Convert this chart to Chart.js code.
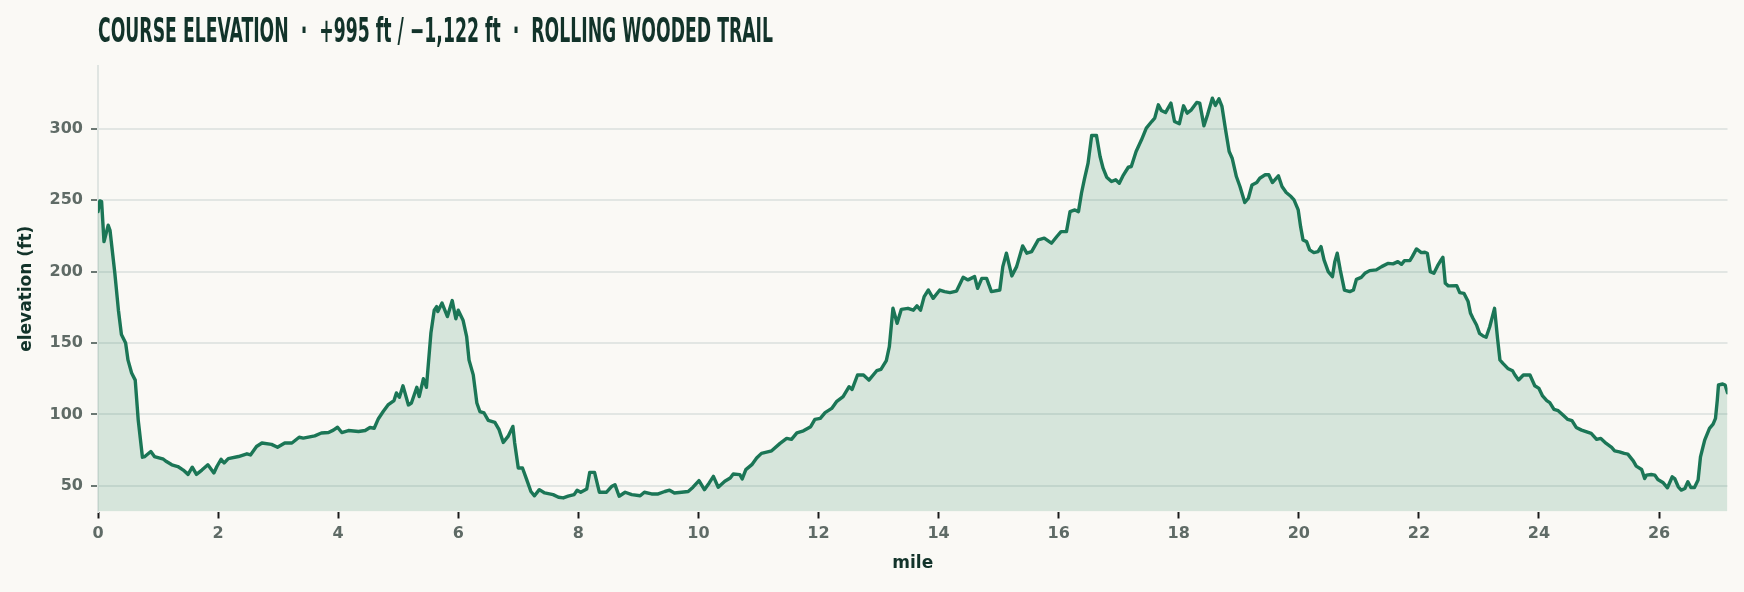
<!DOCTYPE html>
<html><head><meta charset="utf-8">
<script src="https://cdn.jsdelivr.net/npm/chart.js@4.4.1/dist/chart.umd.min.js"></script>
<style>
html,body{margin:0;padding:0;background:#faf9f5;}
#wrap{position:relative;width:1744px;height:592px;overflow:hidden;}
#title{position:absolute;left:98px;top:13px;font-family:'DejaVu Sans Condensed','DejaVu Sans',sans-serif;font-weight:bold;font-size:34px;line-height:34px;color:#12332a;white-space:pre;transform-origin:0 0;}
canvas{position:absolute;left:0;top:0;}
</style></head><body>
<div id="wrap"><canvas id="c" width="1744" height="592"></canvas><div id="title">COURSE ELEVATION  ·  +995 ft / −1,122 ft  ·  ROLLING WOODED TRAIL</div></div>
<script>
const miles = [0.00,0.03,0.06,0.10,0.17,0.20,0.28,0.34,0.39,0.46,0.50,0.56,0.62,0.67,0.74,0.78,0.88,0.94,1.09,1.14,1.23,1.33,1.42,1.50,1.57,1.64,1.73,1.83,1.93,1.98,2.05,2.10,2.17,2.34,2.48,2.54,2.64,2.73,2.89,2.99,3.11,3.23,3.35,3.42,3.61,3.72,3.84,3.92,3.99,4.06,4.17,4.34,4.45,4.53,4.60,4.67,4.75,4.83,4.93,4.97,5.02,5.08,5.17,5.22,5.31,5.35,5.42,5.47,5.545,5.60,5.64,5.66,5.73,5.82,5.90,5.96,6.00,6.08,6.14,6.18,6.25,6.31,6.36,6.43,6.50,6.61,6.68,6.75,6.83,6.91,6.94,7.00,7.07,7.14,7.21,7.27,7.35,7.44,7.58,7.67,7.75,7.83,7.93,7.98,8.04,8.14,8.19,8.27,8.35,8.47,8.56,8.61,8.68,8.78,8.89,9.03,9.10,9.22,9.33,9.44,9.52,9.60,9.72,9.83,9.91,10.01,10.10,10.18,10.25,10.33,10.44,10.53,10.58,10.69,10.73,10.79,10.89,10.97,11.05,11.22,11.36,11.47,11.55,11.64,11.75,11.87,11.94,12.03,12.11,12.22,12.30,12.41,12.51,12.56,12.65,12.75,12.84,12.97,13.04,13.13,13.18,13.24,13.31,13.38,13.49,13.58,13.64,13.70,13.76,13.83,13.91,14.02,14.10,14.19,14.30,14.41,14.49,14.60,14.65,14.72,14.80,14.88,15.02,15.07,15.13,15.22,15.30,15.40,15.47,15.55,15.66,15.76,15.88,15.97,16.04,16.13,16.19,16.27,16.33,16.38,16.43,16.49,16.55,16.63,16.69,16.74,16.80,16.88,16.95,17.01,17.07,17.16,17.21,17.29,17.38,17.46,17.55,17.60,17.66,17.71,17.78,17.87,17.93,18.01,18.08,18.14,18.21,18.30,18.35,18.42,18.48,18.56,18.61,18.67,18.72,18.78,18.84,18.89,18.96,19.02,19.10,19.16,19.22,19.30,19.35,19.44,19.50,19.56,19.66,19.72,19.79,19.87,19.92,19.99,20.03,20.07,20.13,20.18,20.25,20.32,20.37,20.42,20.49,20.56,20.60,20.64,20.69,20.76,20.85,20.91,20.96,21.04,21.10,21.18,21.29,21.38,21.49,21.57,21.65,21.71,21.76,21.85,21.89,21.96,22.04,22.10,22.14,22.19,22.25,22.31,22.37,22.40,22.44,22.49,22.63,22.68,22.75,22.82,22.86,22.90,22.96,23.01,23.07,23.12,23.18,23.26,23.31,23.35,23.40,23.48,23.56,23.60,23.66,23.74,23.85,23.93,24.00,24.06,24.13,24.18,24.25,24.32,24.40,24.48,24.55,24.62,24.71,24.82,24.87,24.96,25.03,25.12,25.21,25.26,25.34,25.42,25.48,25.57,25.62,25.71,25.76,25.79,25.87,25.93,25.98,26.07,26.14,26.22,26.26,26.32,26.37,26.43,26.48,26.53,26.59,26.65,26.69,26.76,26.84,26.90,26.94,26.97,26.99,27.06,27.10,27.14];
const elevation = [242,249.5,249,221,232.5,229,199,173,156,150,138,129,124,96,70,70.5,74,70.5,68.6,67,64.7,63.5,61,58,63,58,61,64.7,59,63.5,68.6,66,69,70.5,72.4,71.6,77.5,80,79,77,80,80,84,83.4,85,87,87.3,89,91,87.3,88.7,88,88.7,90.8,90.3,97,102,106.6,109.7,115,112,120,106.6,108,119,112.5,125,119,157,173,175.5,172,178,168.5,179.7,167,173,166,154.5,138,127.7,108,102,101,95.8,94.4,89.3,80.4,84.6,91.6,80,62.5,62.5,54.3,46,43,47.3,45,43.8,42,41.5,42.7,43.8,46.9,45.5,47.8,59.4,59.4,45.5,45.5,49.7,50.8,42.7,45.5,43.8,43,45.5,44.3,44.3,46,46.9,45,45.5,46,49,53.6,47.3,52,56.6,49,53.2,55.5,58.3,57.8,54.8,61.3,64.8,69.5,72.7,74.5,79.7,83.2,82.5,87.1,88.5,91.4,96.5,97.2,101.2,104.2,108.9,112.4,119.4,117.5,127.6,127.6,124,130.6,131.5,137.6,147.4,174.3,163.8,173.6,174.3,173,176,173,182.5,187.1,181.3,187.1,186,185.3,186.4,196,194.2,196.5,188.3,195.3,195.3,186,187.1,203.5,212.9,197,203.5,218,212.9,214,222.2,223.4,219.9,224.6,228,228,242,243.2,242,254.9,265,276,295.3,295.3,280.6,272.4,266.1,263.1,264.3,261.9,267,273.1,273.6,284.1,292.3,300.5,305.1,307.5,316.8,312.9,311.4,318,305.1,303.5,316.1,311,313.3,318.5,318,302.1,309.8,321.5,316.4,321,315.7,299.3,284.1,279.4,266.6,259.6,248.4,251.4,260.7,262.4,265.4,267.8,267.8,262.4,267.1,259.6,255.4,252.6,250.2,243.2,231.5,222.2,221,215.2,213.3,214,217.5,208.2,200,196.5,207,212.9,201.2,187.1,186,187.1,194.6,196,198.8,200.7,201.2,203.5,205.8,205.4,207,205.1,207.7,207.7,210.5,215.9,213.3,213.6,212.9,200,198.8,204,208.2,210,191.8,190,190.2,185.3,184.8,179,170.8,167.3,162.6,156.8,154.9,154,161.4,174.3,153.3,138.1,135.7,132.2,130.6,127.6,124.1,127.6,127.6,120.1,118.2,112.9,109.6,108.2,103.5,102.6,99.5,96.5,95.6,90.9,89,87.4,86.7,82.5,83.2,79.7,76.9,74.5,73.8,72.7,72.2,67.5,63.8,61.4,55.1,57.5,57.9,57.5,54.4,52.1,48.6,56.3,55.1,49.3,47,48.1,52.8,48.8,48.8,54,70.3,82,90.2,93.2,97.2,110,120.6,121.3,120.6,115.2];
const xTickValues = [0,2,4,6,8,10,12,14,16,18,20,22,24,26];
const yTickValues = [50,100,150,200,250,300];

// fit title width
const t = document.getElementById('title');
const w = t.getBoundingClientRect().width;
t.style.transform = 'scaleX(' + (675 / w) + ')';

const tickFont = {family:"'DejaVu Sans', sans-serif", size:16, weight:'bold'};
const titleFont = {family:"'DejaVu Sans', sans-serif", size:17, weight:'bold'};

new Chart(document.getElementById('c'), {
  type: 'line',
  data: {
    datasets: [{
      data: miles.map((m, i) => ({x: m, y: elevation[i]})),
      borderColor: '#1b7656',
      borderWidth: 3.4,
      backgroundColor: 'rgba(29,122,90,0.16)',
      fill: 'start',
      pointRadius: 0,
      tension: 0,
      borderJoinStyle: 'round',
      borderCapStyle: 'round'
    }]
  },
  options: {
    responsive: false,
    animation: false,
    layout: {padding: {left: 16, right: 16.5, top: 66, bottom: 18}},
    plugins: {legend: {display: false}, tooltip: {enabled: false}},
    scales: {
      x: {
        type: 'linear',
        min: 0,
        max: miles[miles.length - 1],
        afterBuildTicks: s => { s.ticks = xTickValues.map(v => ({value: v})); },
        afterFit: s => { s.height = 62.5; },
        grid: {drawOnChartArea: false, drawTicks: true, tickLength: 7, tickColor: '#1a1a1a', tickWidth: 2},
        border: {display: false},
        ticks: {padding: 6, color: '#5f6b66', font: tickFont, maxRotation: 0, autoSkip: false, includeBounds: false},
        title: {display: true, text: 'mile', color: '#12332a', font: titleFont, padding: 0}
      },
      y: {
        min: 32,
        max: 344,
        afterBuildTicks: s => { s.ticks = yTickValues.map(v => ({value: v})); },
        afterFit: s => { s.width = 82; },
        grid: {color: '#e2e6e3', lineWidth: 2, tickColor: '#6b7873', tickLength: 7, tickWidth: 2},
        border: {display: true, color: '#e0e5e2', width: 2},
        ticks: {padding: 8, color: '#5f6b66', font: tickFont, includeBounds: false},
        title: {display: true, text: 'elevation (ft)', color: '#12332a', font: titleFont, padding: 0}
      }
    }
  }
});
</script>
</body></html>
